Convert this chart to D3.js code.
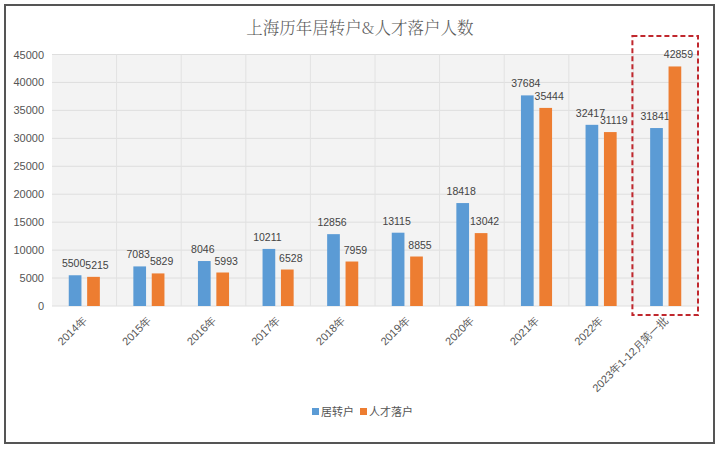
<!DOCTYPE html>
<html><head><meta charset="utf-8">
<script src="https://cdn.jsdelivr.net/npm/d3@7"></script>
<style>body{margin:0;background:#fff}svg{display:block}</style>
</head><body>
<svg id="c" width="720" height="449"></svg>
<script>
const categories = ["2014年","2015年","2016年","2017年","2018年","2019年","2020年","2021年","2022年","2023年1-12月第一批"];
const seriesNames = ["居转户","人才落户"];
const juzhuanhu = [5500,7083,8046,10211,12856,13115,18418,37684,32417,31841];
const rencai = [5215,5829,5993,6528,7959,8855,13042,35444,31119,42859];
const yTicks = [0,5000,10000,15000,20000,25000,30000,35000,40000,45000];
const colors = ["#5b9bd5","#ed7d31"];
const title = "上海历年居转户&人才落户人数";

const svg = d3.select("#c");
const font = "'Liberation Sans', Arial, sans-serif";
const cjk = "'Noto Sans CJK SC', sans-serif";

// outer frame
svg.append("rect").attr("x",5).attr("y",5).attr("width",709).attr("height",438)
  .attr("fill","#fff").attr("stroke","#555").attr("stroke-width",2);

const m = {l:52, r:698, t:54.5, b:306};
const x = d3.scaleBand().domain(categories).range([m.l, m.r]);
const y = d3.scaleLinear().domain([0,45000]).range([m.b, m.t]);

svg.append("rect").attr("x",m.l).attr("y",m.t).attr("width",m.r-m.l).attr("height",m.b-m.t).attr("fill","#f3f3f3");

// horizontal grid
svg.append("g").selectAll("line").data(yTicks).join("line")
  .attr("x1",m.l).attr("x2",m.r).attr("y1",d=>y(d)).attr("y2",d=>y(d))
  .attr("stroke","#dedede").attr("stroke-width",1);
// vertical grid
svg.append("g").selectAll("line").data(categories).join("line")
  .attr("x1",d=>x(d)+x.step()).attr("x2",d=>x(d)+x.step())
  .attr("y1",m.t).attr("y2",m.b).attr("stroke","#e2e2e2");

// y axis
const ya = svg.append("g").attr("transform",`translate(${m.l},0)`)
  .call(d3.axisLeft(y).tickValues(yTicks).tickSize(0).tickPadding(8).tickFormat(d3.format("d")));
ya.select(".domain").remove();
ya.selectAll("text").attr("font-family",font).attr("font-size",11).attr("fill","#555");

// x axis
const xa = svg.append("g").attr("transform",`translate(0,${m.b})`)
  .call(d3.axisBottom(x).tickSize(0).tickPadding(0));
xa.select(".domain").remove();
xa.selectAll("text").attr("font-family",font).attr("font-size",11).attr("fill","#555")
  .attr("text-anchor","end").attr("dy",0)
  .attr("transform","translate(3,15) rotate(-45)");

const bw = 12.7, gap = 5.7;
const data = categories.map((c,i)=>({c, v:[juzhuanhu[i], rencai[i]]}));
const g = svg.append("g");
[0,1].forEach(s=>{
  const off = s===0 ? -(bw+gap/2) : gap/2;
  g.selectAll(".b"+s).data(data).join("rect")
    .attr("x",d=>x(d.c)+x.bandwidth()/2+off).attr("width",bw)
    .attr("y",d=>y(d.v[s])).attr("height",d=>y(0)-y(d.v[s]))
    .attr("fill",colors[s]);
  g.selectAll(".l"+s).data(data).join("text")
    .attr("x",d=>x(d.c)+x.bandwidth()/2+off+bw/2 + (s===0?-1.5:3.5))
    .attr("y",d=>y(d.v[s])-8)
    .attr("text-anchor","middle").attr("font-family",font).attr("font-size",10.5).attr("fill","#444")
    .text(d=>d.v[s]);
});

// title
svg.append("text").attr("x",360).attr("y",34).attr("text-anchor","middle")
  .attr("font-family","'Noto Serif CJK SC','Noto Sans CJK SC',serif").attr("font-weight",300)
  .attr("font-size",16.5).attr("fill","#595959").text(title);

// red dashed box around last category
const lastX = x(categories[categories.length-1]);
svg.append("rect").attr("x",lastX-1).attr("y",36).attr("width",x.step()+1).attr("height",279)
  .attr("fill","none").attr("stroke","#c0272d").attr("stroke-width",2).attr("stroke-dasharray","5,3");

// legend
const lg = svg.append("g").attr("transform","translate(312,412)");
let lx = 0;
seriesNames.forEach((n,i)=>{
  lg.append("rect").attr("x",lx).attr("y",-4).attr("width",7).attr("height",7).attr("fill",colors[i]);
  const t = lg.append("text").attr("x",lx+9).attr("y",4).attr("font-family",cjk).attr("font-size",11).attr("fill","#555").text(n);
  lx += 9 + t.node().getComputedTextLength() + 6;
});
</script>
</body></html>
